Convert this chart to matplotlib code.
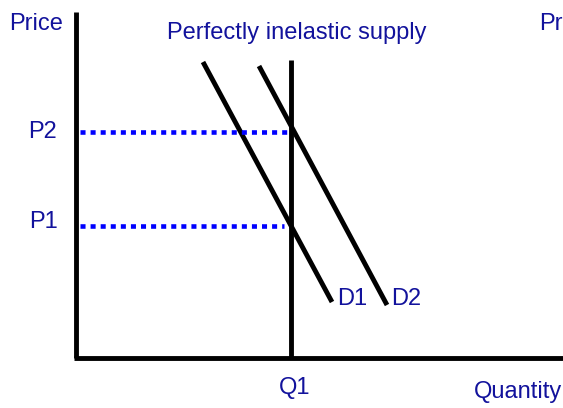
import matplotlib
matplotlib.use("Agg")
import matplotlib.pyplot as plt

# ---- data (diagram units; origin at the axes corner) ----
q_axis_end = 487
p_axis_end = 346
q1 = 215
supply_top = 298
p1 = 132.5
p2 = 226.5
d1_q = [127, 256]
d1_p = [296, 56]
d2_q = [183, 311]
d2_p = [292, 53]
dot_start = 4
dot_end_p1 = 208
dot_end_p2 = 212

TXT = "#12129c"
plt.rcParams['font.family'] = ['Liberation Sans', 'DejaVu Sans']

fig = plt.figure(figsize=(5.63, 4.08), dpi=100)
ax = fig.add_axes([0, 0, 1, 1])
ax.set_xlim(-76, 487)
ax.set_ylim(-50, 358)
ax.axis('off')

lw = 3.5
# axes
ax.plot([0, 0], [0, p_axis_end], color='black', lw=lw, solid_capstyle='butt')
ax.plot([-2, q_axis_end], [0, 0], color='black', lw=lw, solid_capstyle='butt')
# supply
ax.plot([q1, q1], [0, supply_top], color='black', lw=lw, solid_capstyle='butt')
# demand
ax.plot(d1_q, d1_p, color='black', lw=lw, solid_capstyle='butt')
ax.plot(d2_q, d2_p, color='black', lw=lw, solid_capstyle='butt')
# dotted price lines
ax.plot([dot_start, dot_end_p2], [p2, p2], color='#0000ff', lw=3.3,
        linestyle=(0, (1.1, 1.1)), dash_capstyle='butt')
ax.plot([dot_start, dot_end_p1], [p1, p1], color='#0000ff', lw=3.3,
        linestyle=(0, (1.1, 1.1)), dash_capstyle='butt')

fs = 17
kw = dict(color=TXT, fontsize=fs, ha='left', va='baseline', clip_on=False)
ax.text(-67, 327.5, "Price", **kw)
ax.text(91, 318.5, "Perfectly inelastic supply", **kw)
ax.text(463, 327.5, "Pr", **kw)
ax.text(-48, 219.7, "P2", **kw)
ax.text(-47, 129.7, "P1", **kw)
ax.text(261, 53, "D1", **kw)
ax.text(315, 53, "D2", **kw)
ax.text(203, -36, "Q1", **kw)
ax.text(398, -40, "Quantity", **kw)

fig.savefig("out.png", dpi=100)
